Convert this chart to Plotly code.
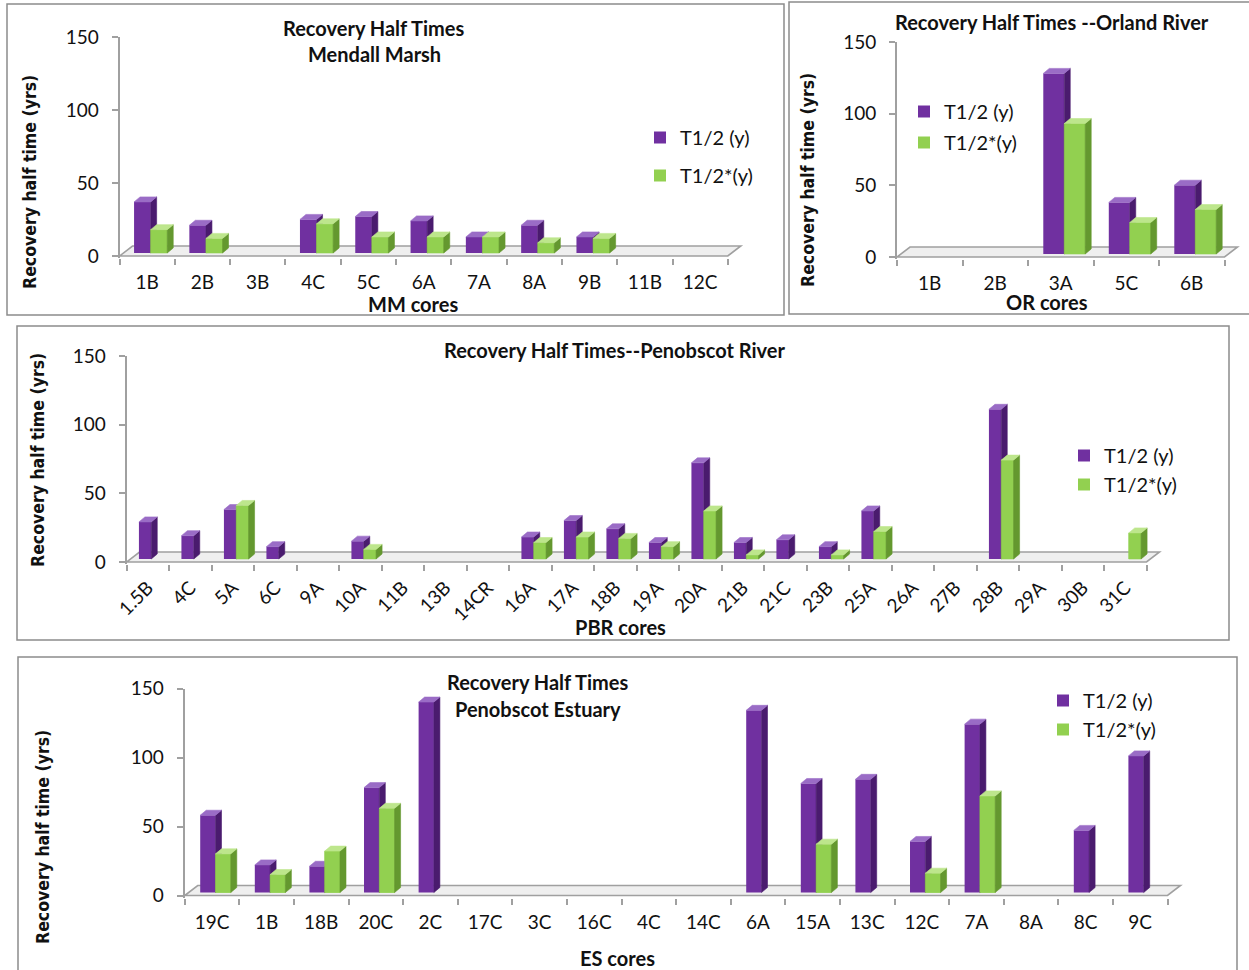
import plotly.graph_objects as go

W, H = 1249, 970
FONT = "Lato, Calibri, 'Open Sans', sans-serif"
AXFONT = "'DejaVu Sans Condensed', 'DejaVu Sans', Verdana, sans-serif"

# ---- data -------------------------------------------------------------
mm_cores = ["1B", "2B", "3B", "4C", "5C", "6A", "7A", "8A", "9B", "11B", "12C"]
mm_t12 = [35, 19, None, 23, 25, 22, 11, 19, 11, None, None]
mm_t12s = [16, 10, None, 20, 11, 11, 11, 7, 10, None, None]

or_cores = ["1B", "2B", "3A", "5C", "6B"]
or_t12 = [None, None, 126, 36, 48]
or_t12s = [None, None, 91, 22, 31]

pbr_cores = ["1.5B", "4C", "5A", "6C", "9A", "10A", "11B", "13B", "14CR", "16A",
             "17A", "18B", "19A", "20A", "21B", "21C", "23B", "25A", "26A", "27B",
             "28B", "29A", "30B", "31C"]
pbr_t12 = [27, 17, 36, 9, None, 13, None, None, None, 16,
           28, 22, 12, 70, 12, 14, 9, 35, None, None,
           109, None, None, None]
pbr_t12s = [None, None, 39, None, None, 7, None, None, None, 12,
            16, 15, 9, 35, 3, None, 3, 20, None, None,
            72, None, None, 19]

es_cores = ["19C", "1B", "18B", "20C", "2C", "17C", "3C", "16C", "4C", "14C",
            "6A", "15A", "13C", "12C", "7A", "8A", "8C", "9C"]
es_t12 = [56, 20, 19, 76, 138, None, None, None, None, None,
          132, 79, 82, 37, 122, None, 45, 99]
es_t12s = [28, 13, 30, 61, None, None, None, None, None, None,
           None, 35, None, 14, 70, None, None, None]

series_names = ["T1/2 (y)", "T1/2*(y)"]

# ---- styling ----------------------------------------------------------
PURPLE = dict(front="#7030A0", side="#4A1B6E", top="#9A6CC6")
GREEN = dict(front="#92D050", side="#64982F", top="#BDE68C")
AXIS_GREY = "#A0A0A0"

# pseudo-3D geometry in pixels
FLOOR_DX, FLOOR_DY = 13, 10      # depth of the chart floor
BAR_SX, BAR_SY = 3.5, 3          # bar front face offset into the floor
BAR_DX, BAR_DY = 6, 5            # depth of each column

# panel frame geometry (pixels)
panels = [
    dict(cores=mm_cores, s=(mm_t12, mm_t12s), xl=119.5, sp=55.3, y0=256, y150=37,
         w=0.30, off=0.15,
         title=["Recovery Half Times", "Mendall Marsh"], title_xy=(374, 28), title_dy=26,
         xtitle="MM cores", xtitle_xy=(413, 304), ytitle_xy=(30, 182),
         leg_xy=(640, 118), leg_gap=9, tickangle=0,
         box=(7, 4, 784, 315)),
    dict(cores=or_cores, s=(or_t12, or_t12s), xl=897, sp=65.5, y0=257, y150=42,
         w=0.32, off=0.16,
         title=["Recovery Half Times --Orland River"], title_xy=(1052, 22), title_dy=0,
         xtitle="OR cores", xtitle_xy=(1047, 302), ytitle_xy=(808, 180),
         leg_xy=(904, 92), leg_gap=2, tickangle=0,
         box=(789, 2, 1262, 314)),
    dict(cores=pbr_cores, s=(pbr_t12, pbr_t12s), xl=126.5, sp=42.5, y0=562, y150=356,
         w=0.29, off=0.145,
         title=["Recovery Half Times--Penobscot River"], title_xy=(615, 350), title_dy=0,
         xtitle="PBR cores", xtitle_xy=(620, 627), ytitle_xy=(38, 460),
         leg_xy=(1064, 436), leg_gap=0, tickangle=-45,
         box=(17, 326, 1229, 640)),
    dict(cores=es_cores, s=(es_t12, es_t12s), xl=184.7, sp=54.6, y0=895.5, y150=688.5,
         w=0.28, off=0.14,
         title=["Recovery Half Times", "Penobscot Estuary"], title_xy=(538, 682), title_dy=27,
         xtitle="ES cores", xtitle_xy=(617, 958), ytitle_xy=(43, 837),
         leg_xy=(1043, 681), leg_gap=0, tickangle=0,
         box=(18, 657, 1237, 985)),
]

fig = go.Figure()
annotations = []
shapes = []
layout_axes = {}


def px_x(x):
    return x / W


def px_y(y):
    return 1 - y / H


for k, p in enumerate(panels, start=1):
    n = len(p["cores"])
    sfx = "" if k == 1 else str(k)
    xa, ya = "x" + sfx, "y" + sfx
    leg = "legend" + sfx
    sp = p["sp"]
    ppu = (p["y0"] - p["y150"]) / 150.0
    pad_px = 2.0
    ylo = -pad_px / ppu
    x_hi = n - 0.5 + (FLOOR_DX + 3) / sp

    layout_axes["xaxis" + sfx] = dict(
        domain=[px_x(p["xl"]), px_x(p["xl"] + (x_hi + 0.5) * sp)],
        range=[-0.5, x_hi], anchor=ya, showgrid=False, zeroline=False,
        showline=False, automargin=False, tickmode="array", tickvals=list(range(n)),
        ticktext=p["cores"], ticks="", tickangle=p["tickangle"],
        tickfont=dict(family=FONT, size=19, color="#111111"),
        ticklabelstandoff=11 if p["tickangle"] == 0 else 8,
        minor=dict(tickmode="linear", tick0=-0.5, dtick=1, ticks="outside",
                   ticklen=6, tickwidth=1.5, tickcolor=AXIS_GREY, showgrid=False),
    )
    layout_axes["yaxis" + sfx] = dict(
        domain=[px_y(p["y0"] + pad_px), px_y(p["y150"])],
        range=[ylo, 150], anchor=xa, showgrid=False, zeroline=False,
        showline=True, linecolor=AXIS_GREY, linewidth=2, automargin=False,
        tickmode="array", tickvals=[0, 50, 100, 150], ticks="outside",
        ticklen=6, tickwidth=1.5, tickcolor=AXIS_GREY,
        tickfont=dict(family=FONT, size=19, color="#111111"),
        ticklabelstandoff=9,
    )

    # floor slab
    fdx, fdy = FLOOR_DX / sp, FLOOR_DY / ppu
    xl0, xr0 = -0.5, n - 0.5
    shapes.append(dict(
        type="path", xref=xa, yref=ya, layer="below",
        path=(f"M{xl0},0 L{xr0},0 L{xr0 + fdx},{fdy} "
              f"L{xl0 + fdx},{fdy} Z"),
        fillcolor="#EFEFEF", line=dict(color=AXIS_GREY, width=1.6)))

    bx, by = BAR_SX / sp, BAR_SY / ppu
    ddx, ddy = BAR_DX / sp, BAR_DY / ppu
    w = p["w"]

    face_traces = []
    for j, (vals, col, name) in enumerate(zip(p["s"], (PURPLE, GREEN), series_names)):
        sign = -1 if j == 0 else 1
        xs = [i + sign * p["off"] + bx for i in range(n)]
        fig.add_trace(go.Bar(
            x=xs, y=vals, base=by, width=w, name=name,
            marker=dict(color=col["front"], line=dict(width=0)),
            xaxis=xa, yaxis=ya, legend=leg, legendgroup=f"{k}-{j}",
            showlegend=True, hoverinfo="skip"))

        fx, fy, sx, sy, tx, ty = [], [], [], [], [], []
        for xc, v in zip(xs, vals):
            if v is None:
                continue
            x0, x1 = xc - w / 2, xc + w / 2
            top = by + v
            fx += [x0, x1, x1, x0, x0, None]
            fy += [by, by, top, top, by, None]
            sx += [x1, x1 + ddx, x1 + ddx, x1, x1, None]
            sy += [by, by + ddy, top + ddy, top, by, None]
            tx += [x0, x1, x1 + ddx, x0 + ddx, x0, None]
            ty += [top, top, top + ddy, top + ddy, top, None]
        polys = []
        if j == 1:
            polys.append((fx, fy, col["front"]))
        polys += [(sx, sy, col["side"]), (tx, ty, col["top"])]
        for px_, py_, c in polys:
            face_traces.append(go.Scatter(
                x=px_, y=py_, mode="lines", fill="toself", fillcolor=c,
                line=dict(color=c, width=0.6), xaxis=xa, yaxis=ya,
                showlegend=False, hoverinfo="skip", legend=leg))
    for t in face_traces:
        fig.add_trace(t)

    # legend box for this panel
    layout_axes[leg] = dict(
        x=px_x(p["leg_xy"][0]), y=px_y(p["leg_xy"][1]), xanchor="left", yanchor="top",
        bgcolor="rgba(0,0,0,0)", font=dict(family=FONT, size=20, color="#111111"),
        traceorder="grouped", tracegroupgap=p["leg_gap"], itemclick=False,
    )

    # titles
    tx0, ty0 = p["title_xy"]
    for m, line in enumerate(p["title"]):
        annotations.append(dict(
            text=f"<b>{line}</b>", x=px_x(tx0), y=px_y(ty0 + m * p["title_dy"]),
            xref="paper", yref="paper", showarrow=False, xanchor="center",
            yanchor="middle", font=dict(family=FONT, size=20, color="#111111")))
    annotations.append(dict(
        text=f"<b>{p['xtitle']}</b>", x=px_x(p["xtitle_xy"][0]), y=px_y(p["xtitle_xy"][1]),
        xref="paper", yref="paper", showarrow=False, xanchor="center", yanchor="middle",
        font=dict(family=FONT, size=20, color="#111111")))
    annotations.append(dict(
        text="<b>Recovery half time (yrs)</b>", x=px_x(p["ytitle_xy"][0]),
        y=px_y(p["ytitle_xy"][1]), xref="paper", yref="paper", showarrow=False,
        textangle=-90, xanchor="center", yanchor="middle",
        font=dict(family=AXFONT, size=17.5, color="#111111")))

    # panel frame
    bx0, by0, bx1, by1 = p["box"]
    shapes.append(dict(type="rect", xref="paper", yref="paper",
                       x0=px_x(bx0), x1=px_x(bx1), y0=px_y(by1), y1=px_y(by0),
                       line=dict(color="#8C8C8C", width=1.5), layer="below"))

fig.update_layout(
    width=W, height=H,
    margin=dict(l=0, r=0, t=0, b=0, autoexpand=False),
    paper_bgcolor="white", plot_bgcolor="rgba(0,0,0,0)",
    barmode="overlay", annotations=annotations, shapes=shapes,
    **layout_axes,
)

fig.write_html("out.html")
